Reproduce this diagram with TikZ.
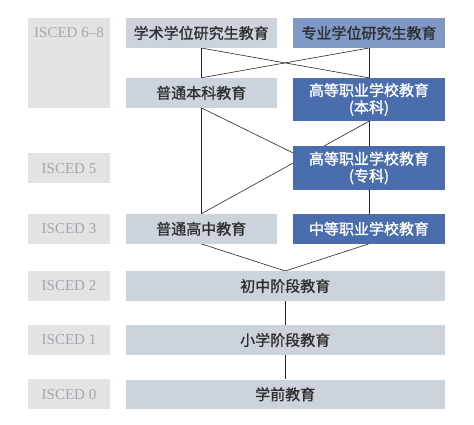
\documentclass[tikz,border=0pt]{standalone}
\usepackage{fontspec}
\setmainfont{Liberation Serif}
\newfontfamily\cjk[FakeBold=1.2]{Noto Sans CJK SC}
\usepackage{tikz}
\usetikzlibrary{positioning,backgrounds}

\definecolor{boxgray}{HTML}{CDD3DB}
\definecolor{boxmid}{HTML}{7F98C6}
\definecolor{boxdark}{HTML}{4A6EAD}
\definecolor{lblgray}{HTML}{E3E3E3}
\definecolor{lbltext}{HTML}{A3A6AE}
\definecolor{cjktext}{HTML}{2E2E2E}

\begin{document}
\begin{tikzpicture}[
  x=1pt, y=-1pt,
  every node/.style={rectangle, inner sep=0pt, align=center, font=\cjk\fontsize{15}{17}\selectfont},
  grade/.style={fill=boxgray, text=cjktext, minimum width=151pt, minimum height=29.6pt},
  wide/.style={grade, minimum width=319pt},
  prof/.style={fill=boxmid, text=cjktext, minimum width=151.4pt, minimum height=29.6pt},
  voc/.style={fill=boxdark, text=white, minimum width=151.4pt, minimum height=29.6pt},
  isced/.style={fill=lblgray, text=lbltext, minimum width=82pt, minimum height=30pt, font=\fontsize{15}{17}\selectfont},
  link/.style={draw=black!85, line width=0.6pt}
]
\useasboundingbox (0,0) rectangle (474,424);

% levels on the left
\node (i68) [isced, minimum height=89.4pt] at (69,63) {};
\node (i68t) [text=lbltext, font=\fontsize{15}{17}\selectfont] at (69,33) {ISCED 6--8};
\node (i5) [isced] at (69,168.3) {ISCED 5};
\node (i3) [isced] at (69,228.8) {ISCED 3};
\node (i2) [isced] at (69,286) {ISCED 2};
\node (i1) [isced] at (69,340) {ISCED 1};
\node (i0) [isced] at (69,394.3) {ISCED 0};

% school types
\node (xueshu) [grade] at (201.2,33) {学术学位研究生教育};
\node (zhuanye) [prof] at (369,33) {专业学位研究生教育};
\node (benke) [grade] at (201.2,92.8) {普通本科教育};
\node (gzbenke) [voc, minimum height=43pt] at (369,99.5) {高等职业学校教育\\(本科)};
\node (gzzhuanke) [voc, minimum height=44pt] at (369,168) {高等职业学校教育\\(专科)};
\node (gaozhong) [grade] at (201.2,228.8) {普通高中教育};
\node (zhongzhi) [voc] at (369,228.8) {中等职业学校教育};
\node (chuzhong) [wide] at (285.2,286) {初中阶段教育};
\node (xiaoxue) [wide] at (285.2,340) {小学阶段教育};
\node (xueqian) [wide] at (285.2,394.3) {学前教育};

\begin{pgfonlayer}{background}
\draw[link] (xueshu.south) -- (benke.north);
\draw[link] (zhuanye.south) -- (gzbenke.north);
\draw[link] (xueshu.south) -- (gzbenke.north);
\draw[link] (zhuanye.south) -- (benke.north);
\draw[link] (benke.south) -- (gaozhong.north);
\draw[link] (benke.south) -- (gzzhuanke.south);
\draw[link] (gzbenke.south) -- (gaozhong.north);
\draw[link] (gzbenke.south) -- (gzzhuanke.north);
\draw[link] (gzzhuanke.south) -- (zhongzhi.north);
\draw[link] (gaozhong.south) -- (chuzhong.north);
\draw[link] (zhongzhi.south) -- (chuzhong.north);
\draw[link] (chuzhong) -- (xiaoxue);
\draw[link] (xiaoxue) -- (xueqian);
\end{pgfonlayer}

\end{tikzpicture}
\end{document}
